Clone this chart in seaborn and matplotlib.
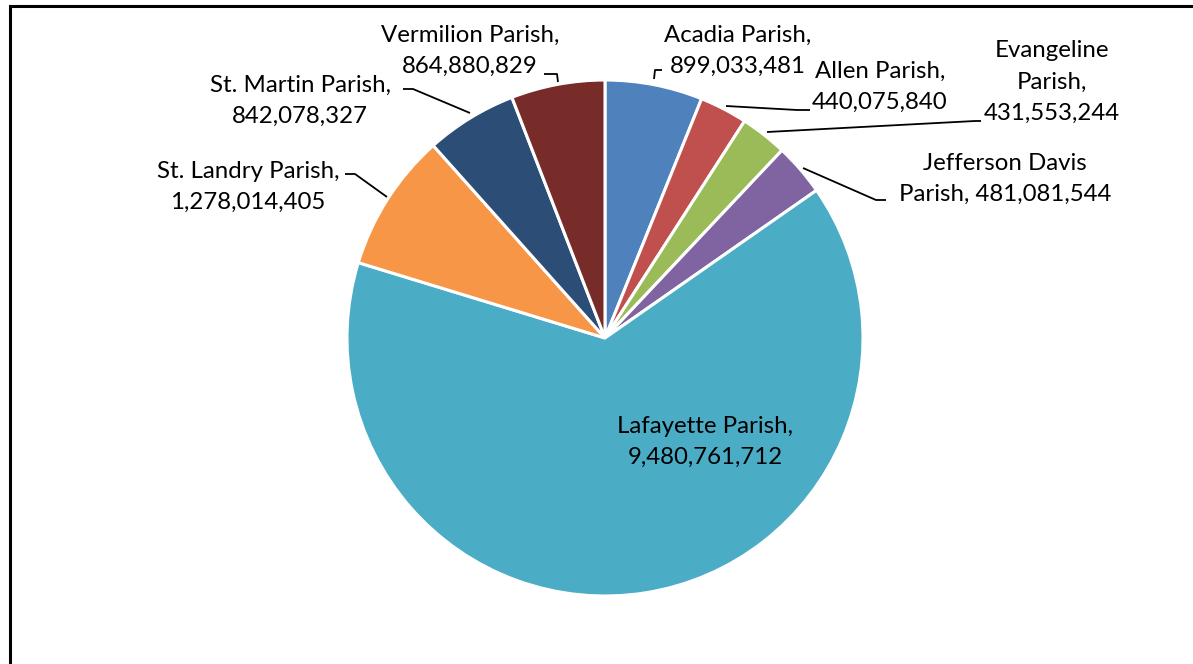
import numpy as np
import pandas as pd
import seaborn as sns
import matplotlib.pyplot as plt
from matplotlib.patches import Rectangle

sns.set_theme(style="white")
plt.rcParams['font.family'] = ['Lato', 'DejaVu Sans']

# data (clockwise from 12 o'clock)
parishes = ["Acadia Parish", "Allen Parish", "Evangeline Parish", "Jefferson Davis Parish",
            "Lafayette Parish", "St. Landry Parish", "St. Martin Parish", "Vermilion Parish"]
values = [899033481, 440075840, 431553244, 481081544,
          9480761712, 1278014405, 842078327, 864880829]
colors = ["#4F81BD", "#C0504D", "#9BBB59", "#8064A2",
          "#4BACC6", "#F79646", "#2C4D75", "#772C2A"]

df = pd.DataFrame({"parish": parishes, "value": values})

W, H = 1193, 664
cx, cy, R = 605, 338, 258

fig = plt.figure(figsize=(W / 100, H / 100), dpi=100)
ax = fig.add_axes([(cx - R) / W, (H - cy - R) / H, 2 * R / W, 2 * R / H])

wedges, _ = ax.pie(df.value, colors=colors, startangle=90, counterclock=False,
                   wedgeprops=dict(edgecolor="white", linewidth=2.2))
ax.set_xlim(-1, 1)
ax.set_ylim(-1, 1)
ax.set_aspect("equal")


def px(x, y):
    # figure pixel -> pie units
    return (x - cx) / R, (cy - y) / R


# label text: (center x, center y in px, text)
label_layout = {
    "Acadia Parish": (738, 51, "Acadia Parish,\n899,033,481"),
    "Allen Parish": (880, 87, "Allen Parish,\n440,075,840"),
    "Evangeline Parish": (1052, 82, "Evangeline\nParish,\n431,553,244"),
    "Jefferson Davis Parish": (1005, 179, "Jefferson Davis\nParish, 481,081,544"),
    "Lafayette Parish": (705, 442, "Lafayette Parish,\n9,480,761,712"),
    "St. Landry Parish": (248, 187, "St. Landry Parish,\n1,278,014,405"),
    "St. Martin Parish": (300, 101, "St. Martin Parish,\n842,078,327"),
    "Vermilion Parish": (470, 51, "Vermilion Parish,\n864,880,829"),
}

# leader lines in px (label end first, wedge end last)
leaders = {
    "Acadia Parish": [(662, 70), (655, 70), (654, 79)],
    "Allen Parish": [(810, 110), (797, 110), (726, 106)],
    "Evangeline Parish": [(981, 121), (975, 121), (767, 132)],
    "Jefferson Davis Parish": [(886, 200), (876, 200), (803, 168)],
    "St. Landry Parish": [(345, 174), (355, 174), (387, 197)],
    "St. Martin Parish": [(403, 89), (413, 89), (470, 113)],
    "Vermilion Parish": [(544, 74), (557, 74), (558, 82)],
}

for name in df.parish:
    x, y, txt = label_layout[name]
    tx, ty = px(x, y)
    ax.text(tx, ty, txt, ha="center", va="center", fontsize=17.3,
            linespacing=1.6, color="black", clip_on=False)
    if name in leaders:
        pts = np.array([px(*p) for p in leaders[name]])
        ax.plot(pts[:, 0], pts[:, 1], color="black", lw=1.3, clip_on=False,
                solid_capstyle="butt")

# chart frame, cut off at the right and bottom
fig.patches.append(Rectangle((10 / W, -0.1), 1.2, (H - 6) / H + 0.1,
                             transform=fig.transFigure, fill=False,
                             edgecolor="black", linewidth=2.2))

fig.savefig("out.png", dpi=100)
